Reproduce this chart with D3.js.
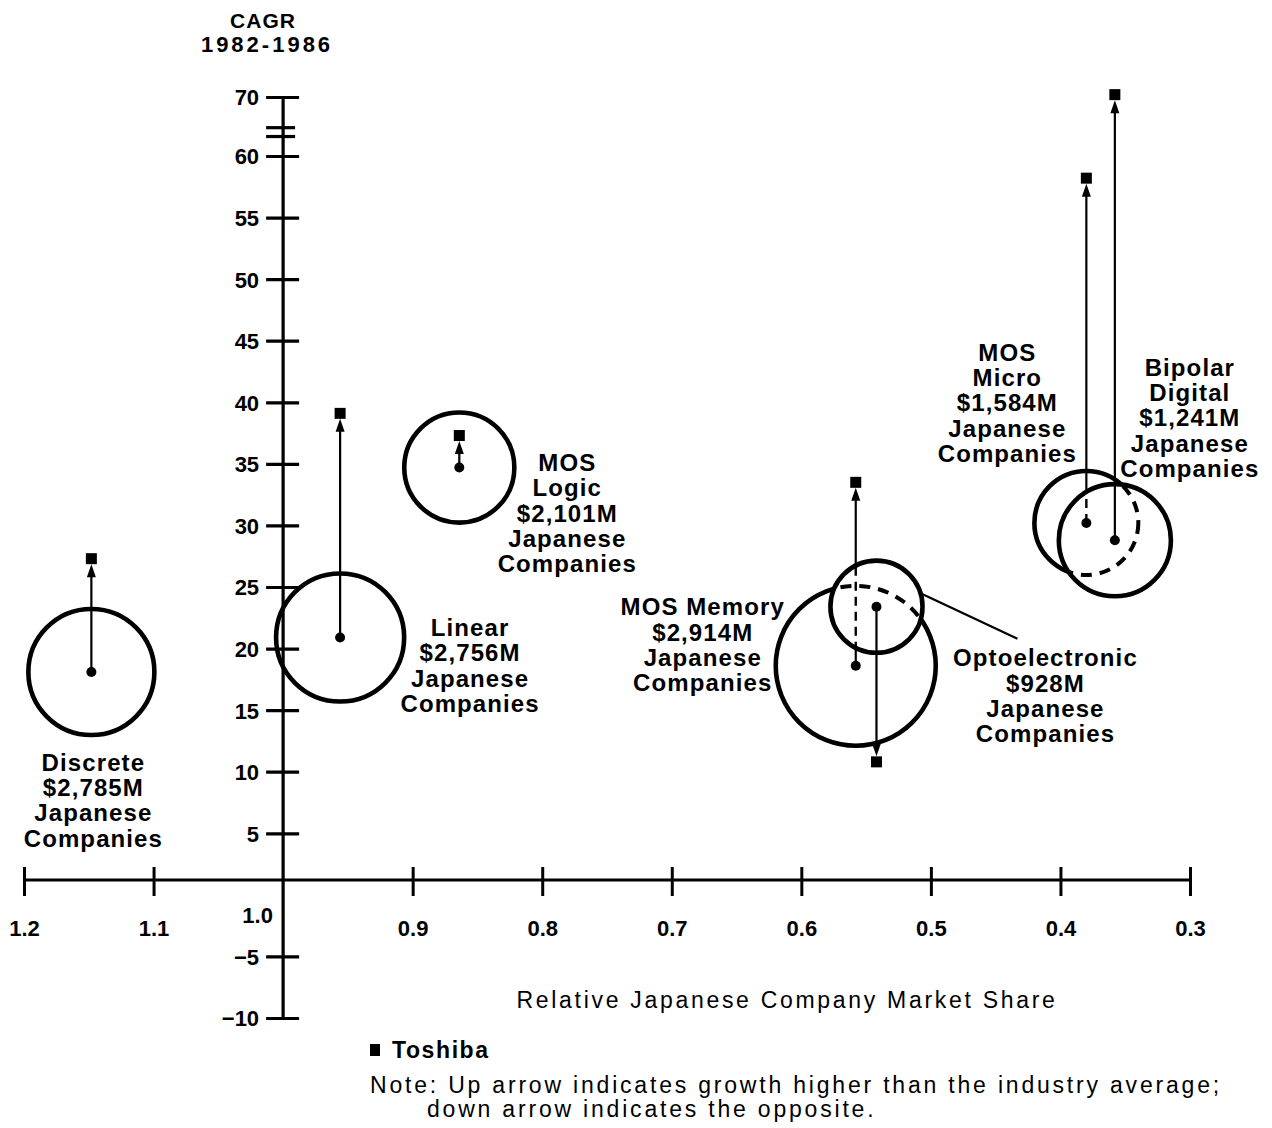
<!DOCTYPE html>
<html>
<head>
<meta charset="utf-8">
<script src="https://cdn.jsdelivr.net/npm/d3@7"></script>
<style>
  body { margin: 0; background: #fff; }
  text { font-family: "Liberation Sans", Arial, sans-serif; fill: #000; }
</style>
</head>
<body>
<svg id="chart" width="1272" height="1128"></svg>
<script>
// values
const segments = ["Discrete", "Linear", "MOS Logic", "MOS Memory", "Optoelectronic", "MOS Micro", "Bipolar Digital"]
const labelLines = [
  ["Discrete", "$2,785M", "Japanese", "Companies"],
  ["Linear", "$2,756M", "Japanese", "Companies"],
  ["MOS", "Logic", "$2,101M", "Japanese", "Companies"],
  ["MOS Memory", "$2,914M", "Japanese", "Companies"],
  ["Optoelectronic", "$928M", "Japanese", "Companies"],
  ["MOS", "Micro", "$1,584M", "Japanese", "Companies"],
  ["Bipolar", "Digital", "$1,241M", "Japanese", "Companies"]
]
const marketShare = [1.148, 0.956, 0.864, 0.558, 0.542, 0.380, 0.358]
const industryCagr = [18.1, 20.9, 34.7, 18.6, 23.4, 30.2, 28.8]
const toshibaCagr = [27.3, 39.1, 37.3, 33.5, 10.8, 58.2, 70.4]
const bubbleSize = [3970, 4100, 3030, 6400, 2120, 2700, 3140]   // relative bubble area
const xTicks = [1.2, 1.1, 1.0, 0.9, 0.8, 0.7, 0.6, 0.5, 0.4, 0.3]
const yTicks = [70, 60, 55, 50, 45, 40, 35, 30, 25, 20, 15, 10, 5, -5, -10]

// which bubble hides part of which (hidden parts drawn dashed)
const hiddenBehind = { "MOS Memory": "Optoelectronic", "MOS Micro": "Bipolar Digital" }

// label placement, offset from bubble centre (layout only)
const labelOffset = {
  "Discrete": [2, 90], "Linear": [130, -10], "MOS Logic": [108, -5],
  "MOS Memory": [-153, -59], "Optoelectronic": [169, 51],
  "MOS Micro": [-79, -171], "Bipolar Digital": [75, -173]
}
const lineGap = 25.3

const svg = d3.select("#chart")
const x = d3.scaleLinear().domain([1.2, 0.3]).range([24, 1190])
const y = d3.scaleLinear().domain([-10, 60, 70]).range([1018, 156, 97])
const r = d3.scaleSqrt().domain([0, 6400]).range([0, 80])
const xAxisY = 880
const axisX = x(1.0)

const data = segments.map((name, i) => ({
  name, lines: labelLines[i], share: marketShare[i],
  cagr: industryCagr[i], tosh: toshibaCagr[i], size: bubbleSize[i]
}))
data.forEach(d => { d.cx = x(d.share); d.cy = y(d.cagr); d.r = r(d.size) })
const byName = {}
data.forEach(d => byName[d.name] = d)

// clip / mask for hidden lines
const defs = svg.append("defs")
Object.values(hiddenBehind).forEach(front => {
  const f = byName[front], id = front.replace(/\s/g, "")
  defs.append("clipPath").attr("id", "in-" + id)
    .append("circle").attr("cx", f.cx).attr("cy", f.cy).attr("r", f.r)
  const m = defs.append("mask").attr("id", "out-" + id)
  m.append("rect").attr("width", 1272).attr("height", 1128).attr("fill", "#fff")
  m.append("circle").attr("cx", f.cx).attr("cy", f.cy).attr("r", f.r).attr("fill", "#000")
})

// axes
const yAxis = svg.append("g")
  .attr("transform", `translate(${axisX},0)`)
  .call(d3.axisLeft(y).tickValues(yTicks).tickSize(0).tickPadding(24))
yAxis.select(".domain").remove()
yAxis.selectAll(".tick line").attr("x1", -17).attr("x2", 16)
  .attr("stroke", "#000").attr("stroke-width", 3.2)
yAxis.selectAll(".tick text")
  .style("font-size", "22px").style("font-weight", "bold").attr("dy", "0.36em")
yAxis.append("line").attr("y1", y(70)).attr("y2", y(-10))
  .attr("stroke", "#000").attr("stroke-width", 3.2)
// axis break
yAxis.selectAll(".brk").data([64.8, 63.3]).enter().append("line")
  .attr("x1", -17).attr("x2", 12).attr("y1", d => y(d)).attr("y2", d => y(d))
  .attr("stroke", "#000").attr("stroke-width", 3.2)

const xAxis = svg.append("g")
  .attr("transform", `translate(0,${xAxisY})`)
  .call(d3.axisBottom(x).tickValues(xTicks).tickFormat(d3.format(".1f")).tickSize(0).tickPadding(48))
xAxis.select(".domain").remove()
xAxis.selectAll(".tick line").attr("y1", -13).attr("y2", 16)
  .attr("stroke", "#000").attr("stroke-width", 3)
xAxis.selectAll(".tick").filter(d => d === 1.0).select("line").remove()
xAxis.selectAll(".tick text")
  .style("font-size", "22px").style("font-weight", "bold").attr("dy", "0.36em")
xAxis.selectAll(".tick").filter(d => d === 1.0).select("text")
  .attr("x", -26).attr("y", 35)
xAxis.append("line").attr("x1", x(1.2)).attr("x2", x(0.3))
  .attr("stroke", "#000").attr("stroke-width", 3.2)

svg.append("text").attr("x", 263).attr("y", 28).attr("text-anchor", "middle")
  .style("font-size", "21px").style("font-weight", "bold").style("letter-spacing", "1px").text("CAGR")
svg.append("text").attr("x", 267).attr("y", 52).attr("text-anchor", "middle")
  .style("font-size", "22px").style("font-weight", "bold").style("letter-spacing", "3px").text("1982-1986")

svg.append("text").attr("x", 787).attr("y", 1008).attr("text-anchor", "middle")
  .style("font-size", "23px").style("letter-spacing", "2.7px").text("Relative Japanese Company Market Share")

// bubbles and arrows
function drawBody(g, d) {
  g.append("circle").attr("cx", d.cx).attr("cy", d.cy).attr("r", d.r)
    .attr("fill", "none").attr("stroke", "#000").attr("stroke-width", 4.6)
  const up = d.tosh > d.cagr
  const sy = y(d.tosh)
  const tip = up ? sy + 5.5 : sy - 5.5
  const end = up ? tip + 11 : tip - 11
  g.append("line").attr("x1", d.cx).attr("x2", d.cx).attr("y1", d.cy).attr("y2", end)
    .attr("stroke", "#000").attr("stroke-width", 2.2)
}

const marks = svg.append("g")
data.forEach(d => {
  const front = hiddenBehind[d.name]
  if (front) {
    const id = front.replace(/\s/g, "")
    drawBody(marks.append("g").attr("mask", `url(#out-${id})`), d)
    const dash = marks.append("g").attr("clip-path", `url(#in-${id})`)
    drawBody(dash, d)
    dash.selectAll("circle").attr("stroke-dasharray", "11,8").attr("stroke-width", 4)
    dash.selectAll("line").attr("stroke-dasharray", "9,6").attr("stroke-width", 2.4)
  } else {
    drawBody(marks.append("g"), d)
  }
})

// dots, arrowheads, Toshiba squares
data.forEach(d => {
  const up = d.tosh > d.cagr
  const sy = y(d.tosh)
  const tip = up ? sy + 5.5 : sy - 5.5
  const base = up ? tip + 13 : tip - 13
  marks.append("circle").attr("cx", d.cx).attr("cy", d.cy).attr("r", 5).attr("fill", "#000")
  marks.append("path")
    .attr("d", `M${d.cx},${tip}L${d.cx - 4.5},${base}L${d.cx + 4.5},${base}Z`)
    .attr("fill", "#000")
  marks.append("rect").attr("x", d.cx - 5.5).attr("y", sy - 5.5)
    .attr("width", 11).attr("height", 11).attr("fill", "#000")
})

// labels
const labels = svg.append("g")
data.forEach(d => {
  const [dx, dy] = labelOffset[d.name]
  const t = labels.append("text").attr("text-anchor", "middle")
    .style("font-size", "24px").style("font-weight", "bold").style("letter-spacing", "1.1px")
  d.lines.forEach((ln, k) => {
    t.append("tspan").attr("x", d.cx + dx).attr("y", d.cy + dy + k * lineGap).attr("dy", "0.36em").text(ln)
  })
})

// leader for Optoelectronic
const opto = byName["Optoelectronic"], ang = -17 * Math.PI / 180
const [odx, ody] = labelOffset["Optoelectronic"]
svg.append("line")
  .attr("x1", opto.cx + opto.r * Math.cos(ang)).attr("y1", opto.cy + opto.r * Math.sin(ang))
  .attr("x2", opto.cx + odx - 28).attr("y2", opto.cy + ody - 19)
  .attr("stroke", "#000").attr("stroke-width", 2.2)

// legend and note
svg.append("rect").attr("x", 370).attr("y", 1044).attr("width", 10).attr("height", 12).attr("fill", "#000")
svg.append("text").attr("x", 392).attr("y", 1058)
  .style("font-size", "23px").style("font-weight", "bold").style("letter-spacing", "1.6px").text("Toshiba")
svg.append("text").attr("x", 370).attr("y", 1093)
  .style("font-size", "23px").style("letter-spacing", "2.8px")
  .text("Note: Up arrow indicates growth higher than the industry average;")
svg.append("text").attr("x", 427).attr("y", 1117)
  .style("font-size", "23px").style("letter-spacing", "2.8px")
  .text("down arrow indicates the opposite.")
</script>
</body>
</html>
